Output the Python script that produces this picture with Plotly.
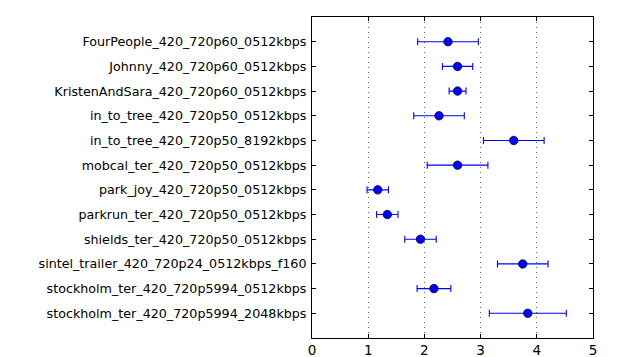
import plotly.graph_objects as go

categories = [
    "FourPeople_420_720p60_0512kbps",
    "Johnny_420_720p60_0512kbps",
    "KristenAndSara_420_720p60_0512kbps",
    "in_to_tree_420_720p50_0512kbps",
    "in_to_tree_420_720p50_8192kbps",
    "mobcal_ter_420_720p50_0512kbps",
    "park_joy_420_720p50_0512kbps",
    "parkrun_ter_420_720p50_0512kbps",
    "shields_ter_420_720p50_0512kbps",
    "sintel_trailer_420_720p24_0512kbps_f160",
    "stockholm_ter_420_720p5994_0512kbps",
    "stockholm_ter_420_720p5994_2048kbps",
]
means = [2.42, 2.59, 2.59, 2.26, 3.59, 2.59, 1.17, 1.34, 1.93, 3.75, 2.17, 3.84]
errors = [0.54, 0.27, 0.15, 0.45, 0.54, 0.54, 0.19, 0.19, 0.28, 0.45, 0.30, 0.685]
x_ticks = [0, 1, 2, 3, 4, 5]

fig = go.Figure()
fig.add_trace(go.Scatter(
    x=means, y=categories, mode="markers",
    marker=dict(color="#0000ff", size=8.5, line=dict(color="black", width=0.7)),
    error_x=dict(type="data", array=errors, symmetric=True,
                 color="#0000ff", thickness=1.1, width=3.5),
    showlegend=False,
))

fig.update_layout(
    width=617, height=349,
    margin=dict(l=304, r=32, t=9, b=19, autoexpand=False),
    paper_bgcolor="white", plot_bgcolor="white",
    font=dict(family="DejaVu Sans", size=12.7, color="black"),
)
fig.update_xaxes(
    range=[0, 5], tickvals=x_ticks, ticktext=[str(v) for v in x_ticks],
    showgrid=True, gridcolor="#666666", griddash="1px,4px", gridwidth=1,
    zeroline=False, showline=True, linecolor="black", linewidth=1,
    mirror="ticks", ticks="inside", ticklen=4, tickcolor="black",
    tickfont=dict(size=13.5),
)
fig.update_yaxes(
    type="category", categoryorder="array", categoryarray=categories,
    range=[len(categories), -1],
    showgrid=False, zeroline=False, showline=True, linecolor="black", linewidth=1,
    mirror="ticks", ticks="inside", ticklen=4, tickcolor="black",
    ticklabelstandoff=2,
    tickfont=dict(size=12.7),
)

fig.write_html("out.html")
